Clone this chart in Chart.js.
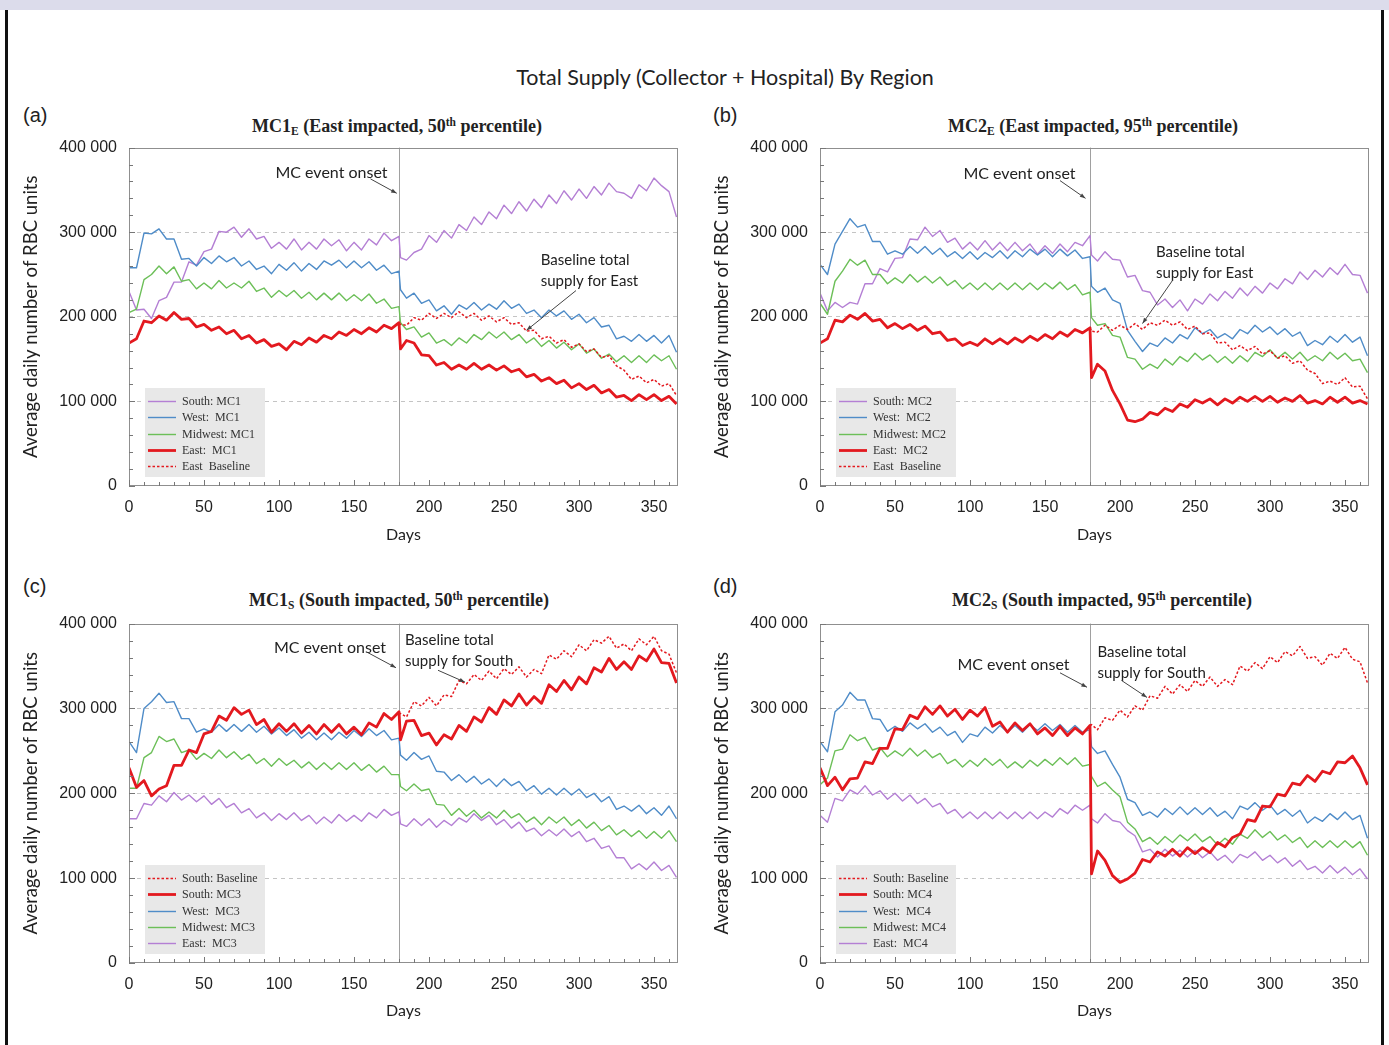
<!DOCTYPE html>
<html>
<head>
<meta charset="utf-8">
<script src="https://cdn.jsdelivr.net/npm/chart.js@4.4.1/dist/chart.umd.min.js"></script>
<style>
  body { margin: 0; background: #fff; width: 1389px; height: 1045px; position: relative; overflow: hidden; }
  #band { position: absolute; left: 0; top: 0; width: 1389px; height: 10px; background: #dcdceb; }
  .edge { position: absolute; top: 10px; width: 3px; height: 1035px; background: #111; }
  #title { position: absolute; left: 375px; width: 700px; top: 64px; line-height: 26px; text-align: center;
           font: 21.5px Lato, sans-serif; color: #222; }
  .plabel { position: absolute; font: 20px "Liberation Sans", Arial, sans-serif; line-height: 24px; color: #222; }
  .ptitle { position: absolute; width: 400px; text-align: center; line-height: 22px;
            font: bold 18px "Liberation Serif", "Times New Roman", serif; color: #222; }
  .ptitle sub, .ptitle sup { font-size: 11.5px; line-height: 0; }
  .ptitle sub { vertical-align: -3px; }
  .ptitle sup { vertical-align: 6px; }
  canvas { position: absolute; }
</style>
</head>
<body>
<div id="band"></div>
<div class="edge" style="left:5px"></div>
<div class="edge" style="left:1381px"></div>
<div id="title">Total Supply (Collector + Hospital) By Region</div>

<div class="plabel" style="left:23px;top:103px">(a)</div>
<div class="plabel" style="left:713px;top:103px">(b)</div>
<div class="plabel" style="left:23px;top:574px">(c)</div>
<div class="plabel" style="left:713px;top:574px">(d)</div>

<div class="ptitle" style="left:197px;top:116px">MC1<sub>E</sub> (East impacted, 50<sup>th</sup> percentile)</div>
<div class="ptitle" style="left:893px;top:116px">MC2<sub>E</sub> (East impacted, 95<sup>th</sup> percentile)</div>
<div class="ptitle" style="left:199px;top:590px">MC1<sub>S</sub> (South impacted, 50<sup>th</sup> percentile)</div>
<div class="ptitle" style="left:902px;top:590px">MC2<sub>S</sub> (South impacted, 95<sup>th</sup> percentile)</div>

<canvas id="chartA" width="680" height="424" style="left:15px;top:126px"></canvas>
<canvas id="chartB" width="680" height="424" style="left:706px;top:126px"></canvas>
<canvas id="chartC" width="680" height="424" style="left:15px;top:602px"></canvas>
<canvas id="chartD" width="680" height="424" style="left:706px;top:602px"></canvas>

<script>
// sample days (event at day 180, so 181 is kept to show the drop)
const days = [0,5,10,15,20,25,30,35,40,45,50,55,60,65,70,75,80,85,90,95,100,105,110,115,120,125,130,135,140,145,150,155,160,165,170,175,180,181,
  185,190,195,200,205,210,215,220,225,230,235,240,245,250,255,260,265,270,275,280,285,290,295,300,305,310,315,320,325,330,335,340,345,350,355,360,365];

const yTicks = [0, 100000, 200000, 300000, 400000];
const xTicks = [0, 50, 100, 150, 200, 250, 300, 350];
const eventDay = 180;

// all values in thousands of RBC units
// (a) MC1 East impacted
const aSouth = [230,208,209,198,219,223,241,241,265,261,277,280,301,300,306,294,304,292,295,281,288,280,292,279,288,280,292,284,291,278,288,279,292,285,299,290,295,270,
  267,276,280,296,288,302,293,309,302,318,309,324,316,332,322,336,325,339,329,344,334,349,338,351,340,354,344,358,348,346,340,356,349,364,355,348,318];
const aWest = [258,258,299,298,304,292,292,268,269,260,270,263,272,265,270,260,266,256,260,251,262,255,264,254,263,256,266,261,267,258,266,258,265,255,261,251,254,232,
  222,228,216,220,207,213,203,214,209,217,208,215,209,219,210,215,204,208,199,208,201,207,197,203,193,199,188,190,174,177,171,179,171,178,169,178,158];
const aMidwest = [205,209,244,250,260,251,259,242,244,233,240,233,243,234,240,234,242,230,234,223,231,224,231,222,229,220,228,220,228,219,226,219,227,216,221,210,212,193,
  185,188,176,181,169,173,166,175,169,179,173,182,175,182,173,179,169,175,165,172,163,170,161,168,157,162,151,156,147,154,146,154,146,155,148,154,138];
const aEast = [169,174,195,193,201,196,205,197,198,188,191,184,188,180,184,174,178,169,173,165,168,161,171,167,175,170,178,174,182,178,185,180,187,182,190,186,193,162,
  172,169,155,154,143,146,138,143,138,145,138,143,137,142,135,138,129,132,124,128,121,125,116,121,114,119,110,114,105,107,101,108,102,108,101,106,97];
// baseline from day 180 on
const aEastBase = [192,191,
  190,199,196,204,198,204,199,206,199,204,196,201,194,199,191,193,183,184,174,177,169,173,164,168,159,162,152,154,142,137,126,130,122,126,118,121,107];

// (b) MC2 East impacted
const bSouth = [228,207,217,211,217,215,239,239,257,253,269,270,292,291,306,295,302,288,293,280,288,279,290,279,288,278,288,278,286,274,284,275,286,277,288,284,296,273,
  266,277,268,267,247,249,231,229,214,221,211,220,207,221,215,227,219,230,222,234,225,236,228,240,233,245,239,253,244,255,247,258,250,262,250,249,228];
const bWest = [262,250,286,301,316,306,309,289,289,274,278,274,283,275,283,274,281,271,277,269,277,268,276,270,278,269,278,271,280,273,280,271,280,272,279,269,271,236,
  229,234,220,216,184,171,159,169,165,175,169,179,174,187,180,185,175,180,174,185,180,190,182,188,179,186,177,182,166,172,167,177,170,179,170,176,154];
const bMidwest = [216,203,242,254,268,261,267,250,250,239,246,240,250,241,248,240,247,237,243,233,240,232,240,232,240,232,240,232,240,232,240,233,241,232,238,226,229,199,
  190,192,178,176,152,150,138,144,139,150,143,153,147,157,149,155,146,153,145,154,147,158,153,161,151,158,150,158,148,154,148,158,150,157,148,150,134];
const bEast = [169,174,196,194,202,197,204,195,197,187,192,186,191,184,189,180,182,172,174,166,170,166,174,168,174,168,175,170,177,172,179,174,182,177,185,181,187,128,
  144,136,113,97,78,76,79,87,84,92,88,97,93,102,98,103,96,103,98,105,100,106,100,106,99,104,100,107,98,101,97,105,99,105,98,101,97];
const bEastBase = [187,183,
  182,190,184,190,185,192,185,193,190,196,190,194,185,189,180,181,169,170,161,166,160,165,156,160,151,154,145,148,137,133,121,124,120,128,117,118,103];

// (c) MC3 South impacted
const cSouth = [230,207,215,197,205,209,233,233,251,248,270,273,291,286,301,293,298,281,287,272,282,273,282,271,280,270,281,272,281,270,278,269,283,278,294,287,296,263,
  285,286,268,271,257,269,264,280,273,290,284,301,293,310,303,317,304,314,306,328,320,333,322,337,329,348,343,359,346,355,346,362,356,370,354,353,330];
const cSouthBase = [295,294,
  290,308,303,313,303,316,314,333,329,340,333,344,335,347,340,349,337,346,341,363,358,368,361,375,368,381,377,385,371,376,368,382,375,385,368,364,342];
const cWest = [261,248,300,308,318,307,308,288,288,272,276,272,281,273,281,273,281,272,279,270,277,268,275,265,272,263,271,263,272,265,274,267,276,268,274,263,265,245,
  239,248,240,244,226,225,215,222,213,220,211,217,208,217,209,214,203,209,199,206,198,206,198,205,195,200,190,196,181,185,179,186,176,183,174,185,170];
const cMidwest = [206,206,242,248,267,261,264,248,251,240,247,241,251,242,249,240,246,235,241,232,241,233,239,230,237,228,236,228,236,228,236,227,234,225,232,222,222,208,
  203,211,203,205,187,186,174,182,173,180,171,178,171,180,171,176,166,172,163,172,165,172,162,169,159,166,156,162,151,157,149,156,147,155,147,156,143];
const cEast = [170,170,188,186,197,190,201,192,198,190,197,187,194,183,188,177,182,171,177,168,176,169,177,168,174,164,172,165,175,167,174,167,177,171,181,174,178,164,
  161,170,162,170,160,168,162,171,166,176,168,174,163,169,159,166,155,159,150,157,150,158,149,155,143,147,135,138,124,124,111,117,110,119,109,115,101];

// (d) MC4 South impacted
const dSouth = [230,209,219,204,217,218,237,235,253,253,276,275,292,288,302,293,303,291,299,287,298,291,301,279,284,272,283,274,282,270,277,268,279,268,277,270,280,105,
  132,121,103,95,99,106,122,119,131,126,134,126,136,129,136,130,142,137,148,152,169,167,185,184,199,197,212,210,221,214,226,223,237,236,244,230,210];
const dSouthBase = [280,281,
  275,289,286,298,290,303,298,315,312,326,317,328,320,333,326,337,326,334,328,350,344,354,347,361,354,367,362,373,359,361,351,365,359,372,358,355,330];
const dWest = [261,249,296,304,319,310,310,288,287,273,279,273,283,276,282,272,278,268,273,260,270,267,278,271,280,272,280,272,281,274,282,274,281,272,280,272,275,255,
  247,250,234,219,193,189,174,178,172,182,175,184,175,183,175,183,173,179,170,185,181,189,180,186,175,181,173,180,165,172,167,176,169,178,169,174,147];
const dMidwest = [210,218,250,252,269,262,266,251,254,243,250,244,253,244,251,242,247,235,240,231,239,232,241,233,240,230,237,230,239,232,240,233,242,234,242,232,234,220,
  208,213,204,196,166,158,143,148,140,149,142,151,144,152,143,149,139,147,140,152,147,157,148,155,145,151,142,148,136,144,136,144,136,144,136,143,127];
const dEast = [174,166,194,191,204,199,209,198,203,193,200,191,198,188,194,184,188,176,181,171,178,170,178,170,178,170,178,170,178,170,178,172,182,176,186,180,186,170,
  165,176,168,166,156,150,131,134,125,134,126,133,125,133,124,131,121,127,118,128,124,131,121,127,118,124,114,121,110,114,106,115,106,113,104,111,99];

const PURPLE = '#b47fd4';
const BLUE = '#4f8cc8';
const GREEN = '#6cbf58';
const RED = '#e3191f';

function toPoints(values) {
  const offset = days.length - values.length;
  return values.map((v, i) => ({ x: days[i + offset], y: v * 1000 }));
}

function thin(label, values, color, order) {
  return { label, values, color, width: 1.4, dash: [], order };
}
function thick(label, values) {
  return { label, values, color: RED, width: 2.8, dash: [], order: 0 };
}
function dotted(label, values) {
  return { label, values, color: RED, width: 1.5, dash: [2.5, 2], order: 1 };
}

const decor = {
  id: 'decor',
  beforeDatasetsDraw(chart, args, opts) {
    const { ctx, chartArea: a, scales: { x } } = chart;
    const ex = Math.round(x.getPixelForValue(opts.eventDay)) + 0.5;
    ctx.save();
    ctx.strokeStyle = '#a0a0a0';
    ctx.lineWidth = 1;
    ctx.beginPath();
    ctx.moveTo(ex, a.top);
    ctx.lineTo(ex, a.bottom);
    ctx.stroke();
    ctx.restore();
  },
  afterDatasetsDraw(chart, args, opts) {
    const { ctx, chartArea: a, scales: { x, y } } = chart;
    ctx.save();
    // frame
    ctx.strokeStyle = '#8f8f8f';
    ctx.lineWidth = 1;
    ctx.strokeRect(Math.round(a.left) + 0.5, Math.round(a.top) + 0.5, Math.round(a.width) - 1, Math.round(a.height) - 1);
    // inward tick marks
    ctx.strokeStyle = '#777';
    ctx.beginPath();
    for (let d = 0; d <= 360; d += 10) {
      const px = Math.round(x.getPixelForValue(d)) + 0.5;
      ctx.moveTo(px, a.bottom);
      ctx.lineTo(px, a.bottom - (d % 50 === 0 ? 6 : 4));
    }
    for (let v = 0; v <= 400000; v += 20000) {
      const py = Math.round(y.getPixelForValue(v)) + 0.5;
      ctx.moveTo(a.left, py);
      ctx.lineTo(a.left + (v % 100000 === 0 ? 6 : 4), py);
    }
    ctx.stroke();

    // annotations
    ctx.fillStyle = '#222';
    ctx.textBaseline = 'middle';
    opts.notes.forEach(n => {
      ctx.font = n.size + 'px Lato, sans-serif';
      ctx.textAlign = n.align;
      const tx = x.getPixelForValue(n.x);
      const ty = y.getPixelForValue(n.y * 1000);
      ctx.fillStyle = '#222';
      n.lines.forEach((t, i) => ctx.fillText(t, tx, ty + i * 21));
      const [x1, y1, x2, y2] = n.arrow;
      const p1 = [x.getPixelForValue(x1), y.getPixelForValue(y1 * 1000)];
      const p2 = [x.getPixelForValue(x2), y.getPixelForValue(y2 * 1000)];
      ctx.strokeStyle = '#444';
      ctx.lineWidth = 1;
      ctx.beginPath();
      ctx.moveTo(p1[0], p1[1]);
      ctx.lineTo(p2[0], p2[1]);
      ctx.stroke();
      const ang = Math.atan2(p2[1] - p1[1], p2[0] - p1[0]);
      ctx.fillStyle = '#444';
      ctx.beginPath();
      ctx.moveTo(p2[0], p2[1]);
      ctx.lineTo(p2[0] - 6 * Math.cos(ang - 0.35), p2[1] - 6 * Math.sin(ang - 0.35));
      ctx.lineTo(p2[0] - 6 * Math.cos(ang + 0.35), p2[1] - 6 * Math.sin(ang + 0.35));
      ctx.closePath();
      ctx.fill();
    });

    // legend box
    const bx = a.left + 16, by = a.bottom - 98;
    ctx.fillStyle = '#e8e8e8';
    ctx.fillRect(bx, by, 120, 89);
    ctx.font = '12px "Liberation Serif", serif';
    ctx.textAlign = 'left';
    chart.data.datasets.forEach((ds, i) => {
      const ly = Math.round(by + 13 + i * 16.3) + 0.5;
      ctx.strokeStyle = ds.borderColor;
      ctx.lineWidth = ds.borderWidth;
      ctx.setLineDash(ds.borderDash);
      ctx.beginPath();
      ctx.moveTo(bx + 3, ly);
      ctx.lineTo(bx + 31, ly);
      ctx.stroke();
      ctx.setLineDash([]);
      ctx.fillStyle = '#333';
      ctx.fillText(ds.label, bx + 37, ly);
    });
    ctx.restore();
  }
};

function makePanel(id, series, notes, xHeight) {
  new Chart(document.getElementById(id), {
    type: 'line',
    data: {
      datasets: series.map(s => ({
        label: s.label,
        data: toPoints(s.values),
        borderColor: s.color,
        borderWidth: s.width,
        borderDash: s.dash,
        order: s.order,
        pointRadius: 0,
        tension: 0,
        fill: false,
        borderJoinStyle: 'round'
      }))
    },
    options: {
      responsive: false,
      animation: false,
      devicePixelRatio: 1,
      layout: { padding: { top: 0, right: 17, left: 0, bottom: 0 } },
      plugins: {
        legend: { display: false },
        tooltip: { enabled: false },
        decor: { eventDay, notes }
      },
      scales: {
        x: {
          type: 'linear',
          min: 0,
          max: 366,
          afterBuildTicks: s => { s.ticks = xTicks.map(v => ({ value: v })); },
          afterFit: s => { s.height = xHeight; },
          grid: { display: false, drawTicks: false },
          border: { display: false },
          ticks: {
            padding: 12,
            maxRotation: 0,
            color: '#222',
            font: { family: '"Liberation Sans", Arial, sans-serif', size: 16 },
            callback: v => String(v)
          },
          title: {
            display: true,
            text: 'Days',
            color: '#222',
            font: { family: 'Lato, sans-serif', size: 16 },
            padding: { top: 0, bottom: 6 }
          }
        },
        y: {
          min: 0,
          max: 400000,
          afterBuildTicks: s => { s.ticks = yTicks.map(v => ({ value: v })); },
          afterFit: s => { s.width = 114; },
          grid: {
            drawTicks: false,
            lineWidth: 1,
            color: c => (c.tick && c.tick.value > 0 && c.tick.value < 400000) ? '#c4c4c4' : 'rgba(0,0,0,0)'
          },
          border: { display: false, dash: [4, 4] },
          ticks: {
            padding: 12,
            color: '#222',
            font: { family: '"Liberation Sans", Arial, sans-serif', size: 16 },
            callback: v => v === 0 ? '0' : (v / 1000) + ' 000'
          },
          title: {
            display: true,
            text: 'Average daily number of RBC units',
            color: '#222',
            font: { family: 'Lato, sans-serif', size: 18.5 },
            padding: { top: 5, bottom: 0 }
          }
        }
      }
    },
    plugins: [decor]
  });
}

makePanel('chartA', [
  thin('South: MC1', aSouth, PURPLE, 4),
  thin('West:  MC1', aWest, BLUE, 3),
  thin('Midwest: MC1', aMidwest, GREEN, 2),
  thick('East:  MC1', aEast),
  dotted('East  Baseline', aEastBase)
], [
  { lines: ['MC event onset'], size: 16, x: 135, y: 370, align: 'center', arrow: [161, 363, 178.5, 346] },
  { lines: ['Baseline total', 'supply for East'], size: 15, x: 274.5, y: 267, align: 'left', arrow: [298, 231, 265, 184] }
], 64);

makePanel('chartB', [
  thin('South: MC2', bSouth, PURPLE, 4),
  thin('West:  MC2', bWest, BLUE, 3),
  thin('Midwest: MC2', bMidwest, GREEN, 2),
  thick('East:  MC2', bEast),
  dotted('East  Baseline', bEastBase)
], [
  { lines: ['MC event onset'], size: 16, x: 133, y: 369, align: 'center', arrow: [160, 361, 177, 340] },
  { lines: ['Baseline total', 'supply for East'], size: 15, x: 224, y: 277, align: 'left', arrow: [235, 243, 215, 192] }
], 64);

makePanel('chartC', [
  dotted('South: Baseline', cSouthBase),
  thick('South: MC3', cSouth),
  thin('West:  MC3', cWest, BLUE, 3),
  thin('Midwest: MC3', cMidwest, GREEN, 2),
  thin('East:  MC3', cEast, PURPLE, 4)
], [
  { lines: ['MC event onset'], size: 16, x: 134, y: 372, align: 'center', arrow: [159, 366, 178, 348] },
  { lines: ['Baseline total', 'supply for South'], size: 15, x: 184, y: 381, align: 'left', arrow: [206, 345, 224, 331] }
], 63);

makePanel('chartD', [
  dotted('South: Baseline', dSouthBase),
  thick('South: MC4', dSouth),
  thin('West:  MC4', dWest, BLUE, 3),
  thin('Midwest: MC4', dMidwest, GREEN, 2),
  thin('East:  MC4', dEast, PURPLE, 4)
], [
  { lines: ['MC event onset'], size: 16, x: 129, y: 351, align: 'center', arrow: [160, 342, 178, 325] },
  { lines: ['Baseline total', 'supply for South'], size: 15, x: 185, y: 366, align: 'left', arrow: [201, 333, 218, 313] }
], 63);
</script>
</body>
</html>
